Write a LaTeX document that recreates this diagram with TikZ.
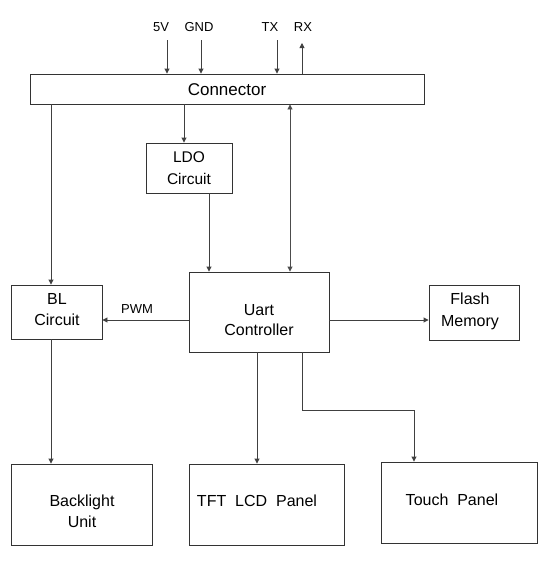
\documentclass[tikz,border=0pt]{standalone}
\usepackage{fontspec}
\setmainfont{Liberation Sans}
\usetikzlibrary{arrows.meta}
\begin{document}
\begin{tikzpicture}[x=1pt,y=-1pt,
  blk/.style={draw=black!80,line width=0.9pt,rectangle,inner sep=0pt,align=center,font=\fontsize{16}{21}\selectfont},
  txt/.style={inner sep=0pt,align=center,font=\fontsize{16}{21}\selectfont},
  conn/.style={draw=black!75,line width=0.9pt,-{Triangle[length=5pt,width=5pt]}},
  biconn/.style={draw=black!70,line width=0.9pt,{Triangle[length=5pt,width=5pt]}-{Triangle[length=5pt,width=5pt]}},
  lbl/.style={font=\fontsize{13}{15}\selectfont,inner sep=0pt}]
\useasboundingbox (0,0) rectangle (550,571);
\fill[white] (0,0) rectangle (550,571);
\node[blk,minimum width=394pt,minimum height=30pt,font=\fontsize{17}{20}\selectfont] (con) at (227,89) {};
\node[txt,font=\fontsize{17}{20}\selectfont] (contxt) at (227,89.5) {Connector};
\node[blk,minimum width=86pt,minimum height=50pt] (ldo) at (189,168) {};
\node[txt,font=\fontsize{15.5}{22}\selectfont] (ldotxt) at (189,168.5) {LDO\\Circuit};
\node[blk,minimum width=140pt,minimum height=80pt] (uart) at (259,312) {};
\node[txt,font=\fontsize{16}{20}\selectfont] (uarttxt) at (259,320) {Uart\\Controller};
\node[blk,minimum width=91pt,minimum height=54pt] (bl) at (56.5,312) {};
\node[txt] (bltxt) at (57,310) {BL\\Circuit};
\node[blk,minimum width=90pt,minimum height=55pt] (flash) at (474,312.5) {};
\node[txt,font=\fontsize{16}{22}\selectfont] (flashtxt) at (470,311.5) {Flash\\Memory};
\node[blk,minimum width=141pt,minimum height=81pt] (blu) at (81.5,504.5) {};
\node[txt] (blutxt) at (82,511) {Backlight\\Unit};
\node[blk,minimum width=155pt,minimum height=81pt] (tft) at (266.5,504.5) {};
\node[txt] (tfttxt) at (257,501) {TFT\ \ LCD\ \ Panel};
\node[blk,minimum width=156pt,minimum height=81pt] (touch) at (459,502.5) {};
\node[txt] (touchtxt) at (452,500) {Touch\ \ Panel};
% top signals
\node[lbl] (l5v) at (161,27.5) {5V};
\node[lbl] (lgnd) at (199,27.5) {GND};
\node[lbl] (ltx) at (270,27.5) {TX};
\node[lbl] (lrx) at (303,27.5) {RX};
\coordinate (t5v) at (167,40);
\coordinate (tgnd) at (201,40);
\coordinate (ttx) at (277,40);
\coordinate (trx) at (302,43);
\draw[conn] (t5v) -- (t5v |- con.north);
\draw[conn] (tgnd) -- (tgnd |- con.north);
\draw[conn] (ttx) -- (ttx |- con.north);
\draw[conn] (trx |- con.north) -- (trx);
% x positions
\coordinate (x51) at (51,0);
\coordinate (x184) at (184,0);
\coordinate (x209) at (209,0);
\coordinate (x290) at (290,0);
\coordinate (x257) at (257,0);
\coordinate (x302) at (302,0);
\coordinate (x414) at (414,0);
\coordinate (y410) at (0,410);
\coordinate (y320) at (0,320);
\draw[conn] (con.south -| x51) -- (bl.north -| x51);
\draw[conn] (con.south -| x184) -- (ldo.north -| x184);
\draw[conn] (ldo.south -| x209) -- (uart.north -| x209);
\draw[biconn] (con.south -| x290) -- (uart.north -| x290);
\draw[conn] (uart.west |- y320) -- (bl.east |- y320);
\node[lbl] (pwm) at (137,309.5) {PWM};
\draw[conn] (uart.east |- y320) -- (flash.west |- y320);
\draw[conn] (bl.south -| x51) -- (blu.north -| x51);
\draw[conn] (uart.south -| x257) -- (tft.north -| x257);
\draw[conn] (uart.south -| x302) -- (x302 |- y410) -- (x414 |- y410) -- (touch.north -| x414);
\end{tikzpicture}
\end{document}
